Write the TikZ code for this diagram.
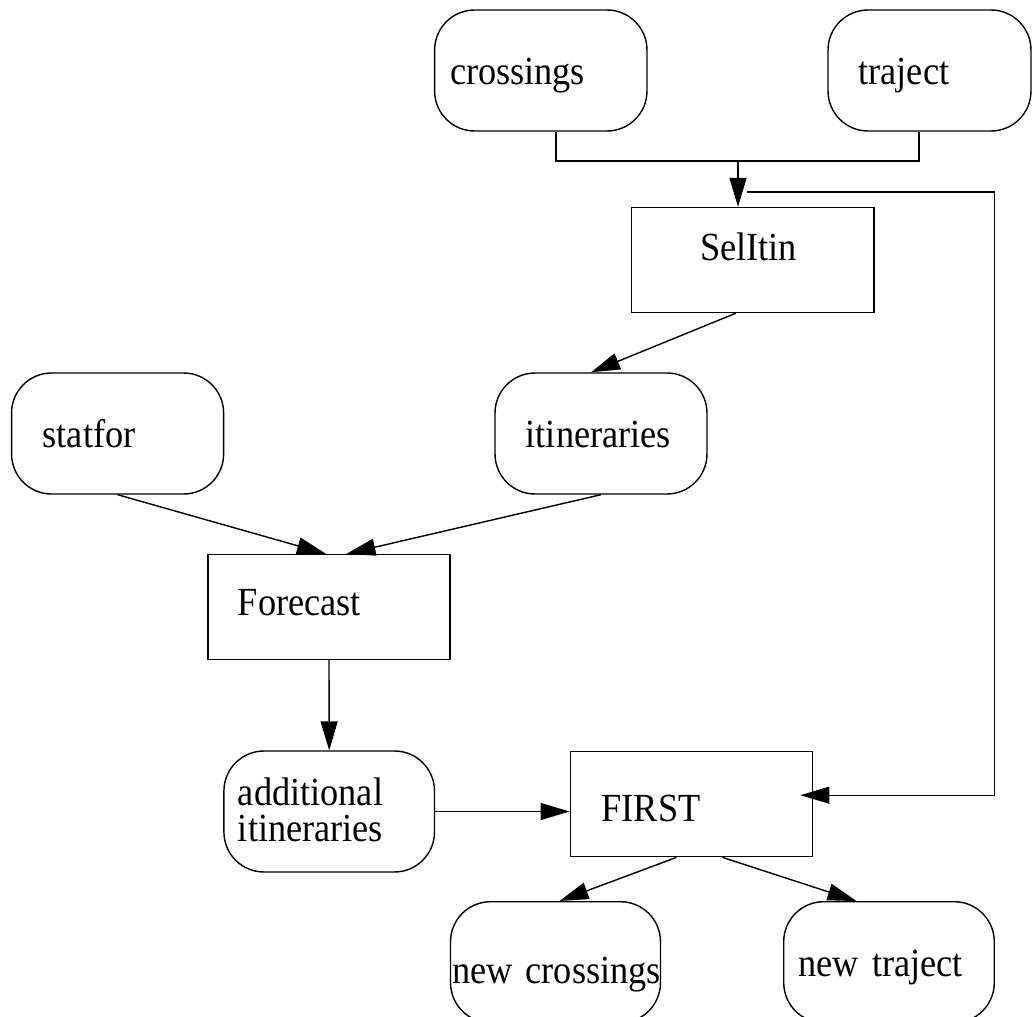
\documentclass[tikz,border=0pt]{standalone}
\usepackage{fontspec}
\setmainfont{Liberation Serif}[FakeStretch=0.91]
\usepackage{tikz}
\usetikzlibrary{arrows.meta}

\begin{document}
\begin{tikzpicture}[x=0.02cm, y=-0.02cm, line width=0.8pt,
        archivio/.style={draw, rounded corners=0.8cm, minimum height=2.42cm, inner ysep=0pt, align=left, font=\fontsize{22.7}{21}\selectfont},
        processo/.style={draw, minimum height=2.1cm, inner ysep=0pt, align=left, font=\fontsize{22.7}{21}\selectfont},
        freccia/.style={-{Triangle[length=0.58cm, width=0.34cm]}}]
        \useasboundingbox (0,0) rectangle (1032,1017);
        %dati in alto
        \node (crossings) at (540.8,70.5)[archivio, inner xsep=0.308cm, text width=3.632cm, text height=0.58cm, text depth=0cm]{crossings};
        \node (traject) at (929.5,70.5)[archivio, inner xsep=0.612cm, text width=2.836cm, text height=0.58cm, text depth=0cm]{traject};
        %processi
        \node (selitin) at (752.9,260)[processo, inner xsep=1.366cm, text width=2.114cm, text height=0cm, text depth=0cm]{SelItin};
        \node (forecast) at (329,607)[processo, inner xsep=0.598cm, text width=3.644cm, text height=0.32cm, text depth=0cm]{Forecast};
        \node (first) at (691.5,804.2)[processo, inner xsep=0.626cm, text width=3.598cm, text height=0.672cm, text depth=0cm]{FIRST};
        %dati intermedi
        \node (statfor) at (117.6,433.5)[archivio, inner xsep=0.624cm, text width=2.994cm, text height=0.58cm, text depth=0cm]{statfor};
        \node (itineraries) at (601,433.5)[archivio, inner xsep=0.616cm, text width=3.008cm, text height=0.58cm, text depth=0cm]{itineraries};
        \node (additional) at (329.2,811.5)[archivio, inner xsep=0.28cm, text width=3.652cm, text height=0cm, text depth=0.26cm]{additional\\itineraries};
        %dati in uscita
        \node (newcrossings) at (555.5,962.2)[archivio, inner xsep=0.03cm, text width=4.14cm, text height=0.844cm, text depth=0cm]{\mbox{new crossings}};
        \node (newtraject) at (889,962.2)[archivio, inner xsep=0.296cm, text width=3.62cm, text height=0.59cm, text depth=0cm]{\mbox{new traject}};
        %collegamenti
        \coordinate (join) at (738,161);
        \coordinate (loop) at (994.5,192);
        \draw ([xshift=0.304cm]crossings.south) |- (join) -| ([xshift=-0.21cm]traject.south);
        \draw[freccia] (join) -- (join |- selitin.north);
        \draw[freccia] ([xshift=0.17cm]join |- loop) -- (loop) |- ([xshift=-0.26cm,yshift=0.18cm]first.east);
        \draw[freccia] ([xshift=-0.34cm]selitin.south) -- ([xshift=-0.2cm]itineraries.north);
        \draw[freccia] (statfor.south) -- ([xshift=-0.06cm]forecast.north);
        \draw[freccia] (itineraries.south) -- ([xshift=0.35cm]forecast.north);
        \draw[freccia] (forecast.south) -- (additional.north);
        \draw[freccia] (additional.east) -- (additional.east -| first.west);
        \draw[freccia] ([xshift=-0.3cm]first.south) -- ([xshift=0.08cm]newcrossings.north);
        \draw[freccia] ([xshift=0.62cm]first.south) -- ([xshift=-0.65cm]newtraject.north);
    \end{tikzpicture}
\end{document}
